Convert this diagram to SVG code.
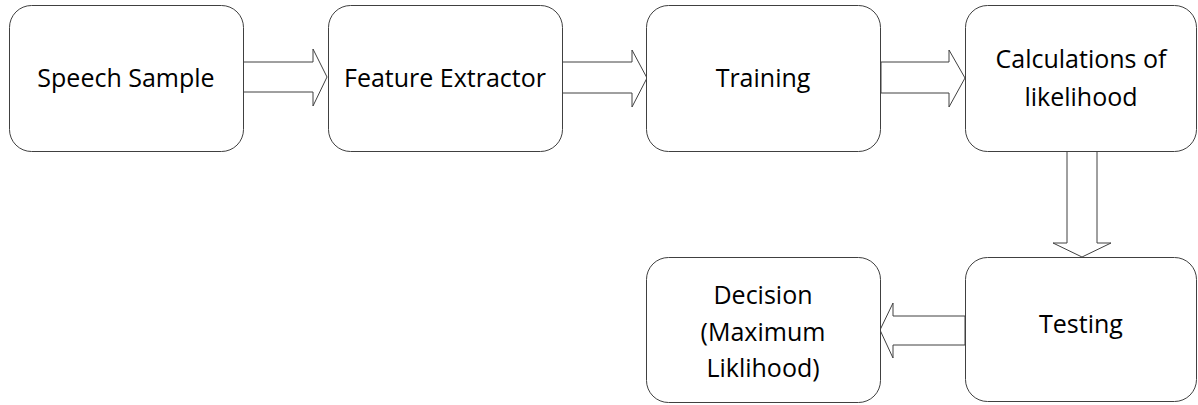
<svg xmlns="http://www.w3.org/2000/svg" width="1198" height="405" viewBox="0 0 1198 405">
<style>
.box{fill:#fff;stroke:#404040;stroke-width:1}
.arr{fill:#fff;stroke:#404040;stroke-width:1}
text{font-family:"Open Sans","Liberation Sans",sans-serif;font-size:25px;fill:#000;text-anchor:middle}
</style>
<rect width="1198" height="405" fill="#fff"/>
<g id="connectors">
<polygon class="arr" points="243,62 313,62 313,49 327,77 313,106 313,92 243,92"/>
<polygon class="arr" points="562,62 632,62 632,50 647,78 632,107 632,93 562,93"/>
<polygon class="arr" points="881,62 949,62 949,50 965,78 949,107 949,93 881,93"/>
<polygon class="arr" points="1067,151 1097,151 1097,243 1111,243 1082,257 1053,243 1067,243"/>
<polygon class="arr" points="965,316 893,316 893,303 880,330 893,358 893,345 965,345"/>
</g>
<g id="n1"><rect class="box" x="9.5" y="5.5" width="234" height="146" rx="22"/><text x="126" y="87">Speech Sample</text></g>
<g id="n2"><rect class="box" x="328.5" y="5.5" width="234" height="146" rx="22"/><text x="445" y="87">Feature Extractor</text></g>
<g id="n3"><rect class="box" x="646.5" y="5.5" width="234" height="146" rx="22"/><text x="763" y="87">Training</text></g>
<g id="n4"><rect class="box" x="965.5" y="5.5" width="231" height="146" rx="22"/><text x="1081" y="68">Calculations of</text><text x="1081" y="106">likelihood</text></g>
<g id="n5"><rect class="box" x="965.5" y="257.5" width="231" height="144" rx="22"/><text x="1081" y="333">Testing</text></g>
<g id="n6"><rect class="box" x="646.5" y="257.5" width="234" height="145" rx="22"/><text x="763" y="304">Decision</text><text x="763" y="341">(Maximum</text><text x="763" y="377">Liklihood)</text></g>
</svg>
